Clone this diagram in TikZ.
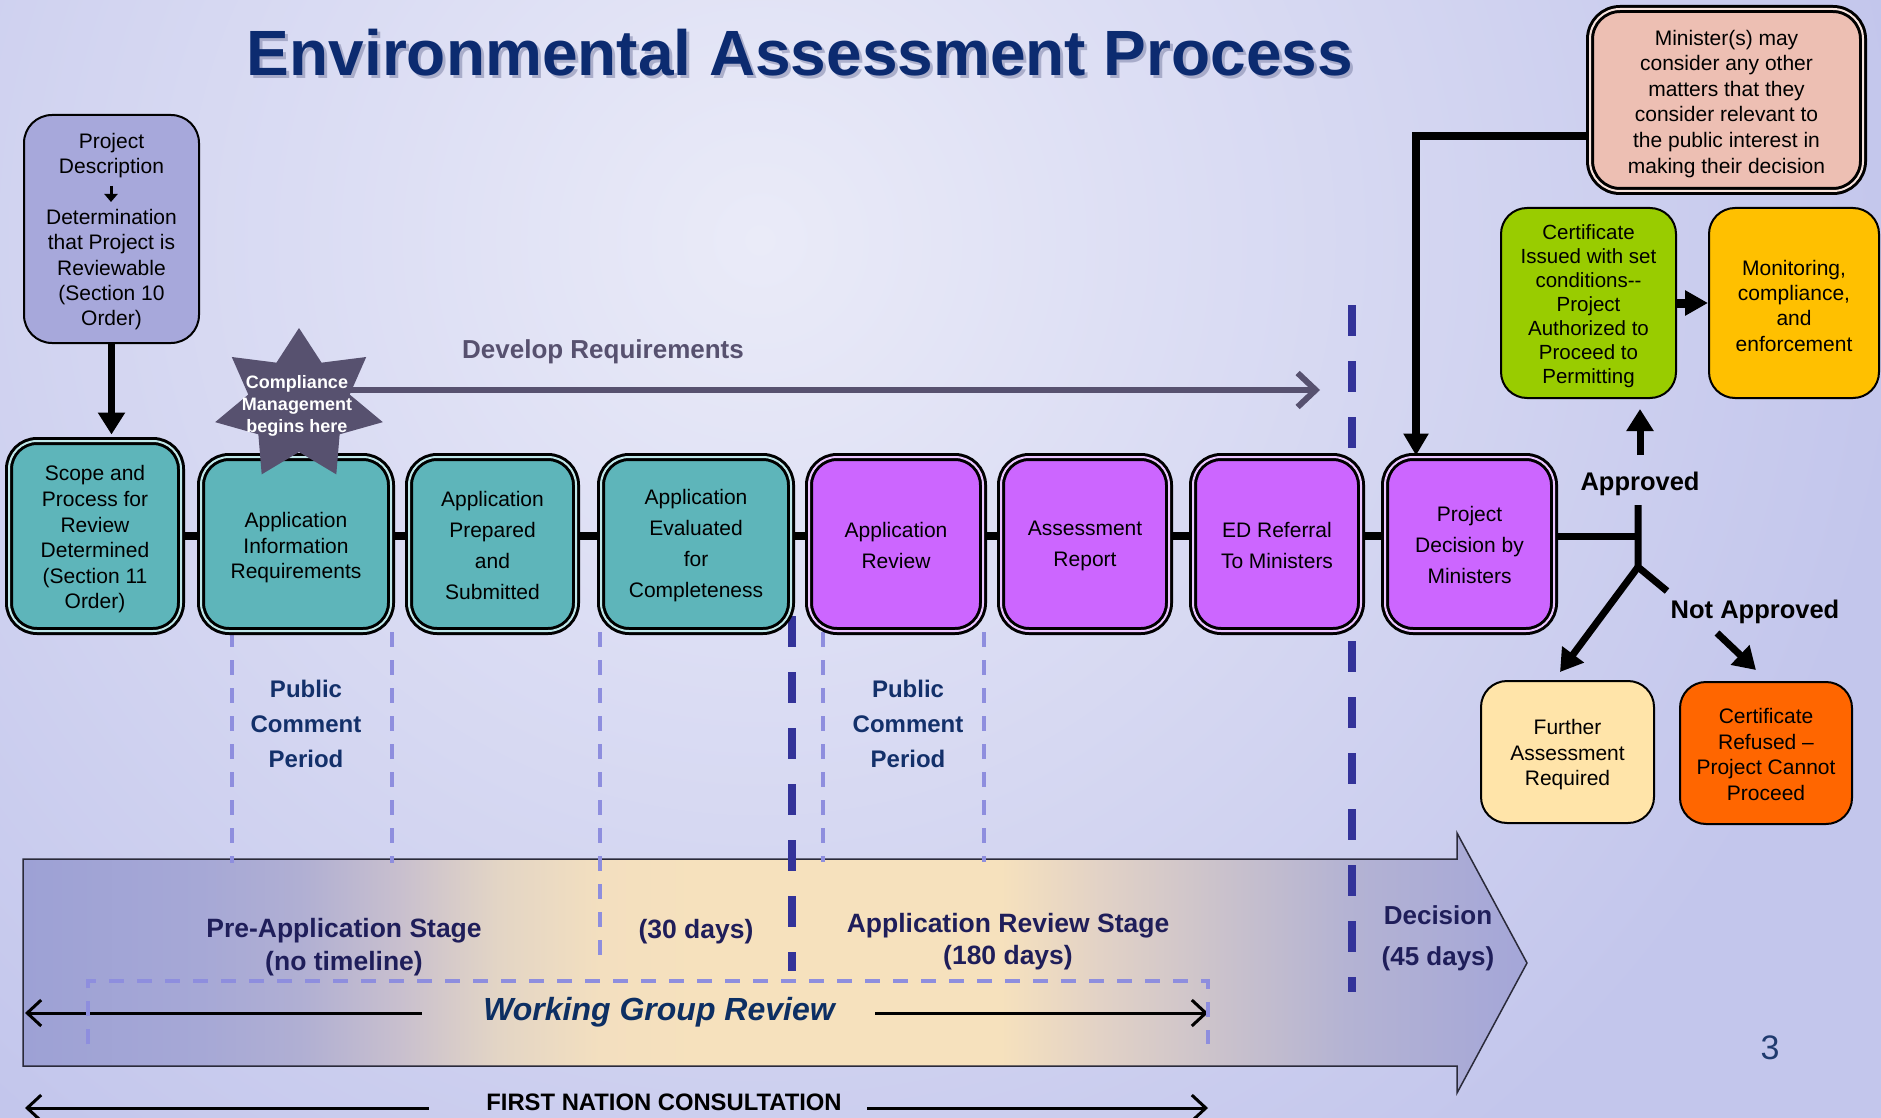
\documentclass[tikz,border=0pt]{standalone}
\usepackage{fontspec}
\setmainfont{Liberation Sans}
\usetikzlibrary{arrows.meta,calc}

\definecolor{titlec}{HTML}{0C2B70}
\definecolor{titlesh}{HTML}{7F84A8}
\definecolor{tealf}{HTML}{5EB5BA}
\definecolor{tealgap}{HTML}{BFE7E9}
\definecolor{purpf}{HTML}{CC66FF}
\definecolor{purpgap}{HTML}{EBC6FF}
\definecolor{pdfill}{HTML}{A7A8DB}
\definecolor{starcol}{HTML}{57516F}
\definecolor{pcpc}{HTML}{13306A}
\definecolor{stagec}{HTML}{1F1E5A}
\definecolor{wgc}{HTML}{0D2F63}
\definecolor{navyd}{HTML}{333399}
\definecolor{lightd}{HTML}{8E8EDE}
\definecolor{greenc}{HTML}{99CC00}
\definecolor{monc}{HTML}{FFC000}
\definecolor{furc}{HTML}{FFE4A9}
\definecolor{refc}{HTML}{FF6600}
\definecolor{minc}{HTML}{EDBFB3}
\definecolor{mingap}{HTML}{F7E3DD}
\definecolor{pagec}{HTML}{1F3A6E}
\definecolor{bgin}{HTML}{EAEBF8}
\definecolor{bgout}{HTML}{C3C6EC}
\definecolor{arrowln}{HTML}{2A2A3A}
\definecolor{sA}{HTML}{9DA1D5}
\definecolor{sB}{HTML}{A6A8D6}
\definecolor{sC}{HTML}{B0AFD3}
\definecolor{sD}{HTML}{C8BFCE}
\definecolor{sE}{HTML}{E3D5C5}
\definecolor{sF}{HTML}{F3DFBF}
\definecolor{sG}{HTML}{F6E1BD}
\definecolor{sH}{HTML}{E2D2C6}
\definecolor{sI}{HTML}{CCC3CB}
\definecolor{sJ}{HTML}{B4B3D3}
\definecolor{sK}{HTML}{A4A6D8}

\pgfdeclarehorizontalshading{arrowshade}{100bp}{color(0bp)=(sA); color(25bp)=(sA); color(30.9bp)=(sB); color(34.2bp)=(sC); color(37.5bp)=(sD); color(40.8bp)=(sE); color(44.2bp)=(sF); color(47.5bp)=(sG); color(57.5bp)=(sG); color(60.8bp)=(sH); color(64.5bp)=(sI); color(69bp)=(sJ); color(75bp)=(sK); color(100bp)=(sK)}

\pgfdeclarelayer{bg}
\pgfdeclarelayer{mid}
\pgfsetlayers{bg,mid,main}

\newcommand\ts[1]{\rule{0pt}{#1pt}}

\begin{document}
\begin{tikzpicture}[x=1pt,y=-1pt,
  rowbox/.style={draw=black, line width=3pt, double distance=2pt, rounded corners=28pt, inner sep=0pt, align=center, font=\fontsize{21}{25.6}\selectfont},
  widesp/.style={font=\fontsize{21}{31}\selectfont},
  tealbox/.style={rowbox, fill=tealf, double=tealgap},
  purpbox/.style={rowbox, fill=purpf, double=purpgap},
  flatbox/.style={draw=black, line width=2pt, rounded corners=26pt, inner sep=0pt, align=center, font=\fontsize{21}{25.4}\selectfont},
  barline/.style={line width=8pt, draw=black},
  thickarr/.style={line width=7pt, -{Triangle[length=22pt,width=26pt]}},
  thickln/.style={line width=7pt},
  lightdash/.style={draw=lightd, line width=4pt, dash pattern=on 15pt off 13pt},
  navydash/.style={draw=navyd, line width=8pt, dash pattern=on 31pt off 25pt},
  thinarr/.style={line width=3pt, -{Straight Barb[length=14pt,width=26pt]}},
  devarr/.style={draw=starcol, line width=6pt, -{Straight Barb[length=18pt,width=34pt]}},
  stagetxt/.style={text=stagec, font=\bfseries\fontsize{26.5}{33}\selectfont, align=center},
  pcptxt/.style={text=pcpc, font=\bfseries\fontsize{24}{35}\selectfont, align=center},
  lbl/.style={font=\bfseries\fontsize{25.5}{30}\selectfont}
]
\useasboundingbox (0,0) rectangle (1881,1118);

% ---------- background ----------
\begin{pgfonlayer}{bg}
  \fill[bgout] (0,0) rectangle (1881,1118);
  \begin{scope}
    \clip (0,0) rectangle (1881,1118);
    \shade[inner color=bgin, outer color=bgout] (-390,-910) rectangle (1910,1390);
  \end{scope}
  % big timeline arrow
  \shadedraw[shading=arrowshade, draw=arrowln, line width=1.5pt]
    (23,859) -- (1457,859) -- (1457,833) -- (1527,963) -- (1457,1093) -- (1457,1066) -- (23,1066) -- cycle;
\end{pgfonlayer}

% ---------- title ----------
\node[text=titlesh, opacity=.55, font=\bfseries\fontsize{64}{70}\selectfont] (titleshadow) at (803,56) {Environmental Assessment Process};
\node[text=titlec, font=\bfseries\fontsize{64}{70}\selectfont] (title) at (800,53) {Environmental Assessment Process};

% ---------- project description ----------
\node[flatbox, fill=pdfill, minimum width=175pt, minimum height=228pt, rounded corners=28pt] (pd) at (111.5,229)
  {\ts{20.5}Project\\Description\\[25.4pt]Determination\\that Project is\\Reviewable\\(Section 10\\Order)};
\draw[line width=3pt, -{Triangle[length=8pt,width=13pt]}] (111,186) -- (111,202);

% ---------- main row ----------
\node[tealbox, minimum width=172pt, minimum height=190pt] (scope) at (95,536)
  {\ts{22}Scope and\\Process for\\Review\\Determined\\(Section 11\\Order)};
\node[tealbox, minimum width=190pt, minimum height=174pt] (air) at (296,544)
  {\ts{23}Application\\Information\\Requirements};
\node[tealbox, widesp, minimum width=167pt, minimum height=174pt] (prep) at (492.5,544)
  {\ts{17.8}Application\\Prepared\\and\\Submitted};
\node[tealbox, widesp, minimum width=190pt, minimum height=174pt] (eval) at (696,544)
  {\ts{17.8}Application\\Evaluated\\for\\Completeness};
\node[purpbox, widesp, minimum width=174pt, minimum height=174pt] (review) at (896,544)
  {\ts{17.8}Application\\Review};
\node[purpbox, widesp, minimum width=168pt, minimum height=174pt] (report) at (1085,544)
  {\ts{17.8}Assessment\\Report};
\node[purpbox, widesp, minimum width=168pt, minimum height=174pt] (edref) at (1277,544)
  {\ts{17.8}ED Referral\\To Ministers};
\node[purpbox, widesp, minimum width=169pt, minimum height=174pt] (decision) at (1469.5,544)
  {\ts{17.8}Project\\Decision by\\Ministers};

% ---------- star ----------
\fill[starcol] (299,328) \foreach \i in {1,...,13}{
  -- ({299+(86-34*mod(\i,2))*sin(\i*360/14)},{405-(77-30*mod(\i,2))*cos(\i*360/14)}) } -- cycle;
\node[text=white, font=\bfseries\fontsize{18}{22}\selectfont, align=center] (cmstar) at (297,406)
  {Compliance\\Management\\begins here};

\node[text=starcol, font=\bfseries\fontsize{26}{30}\selectfont] (devtxt) at (603,352) {Develop Requirements};
\coordinate (devend) at (1320,390);

% ---------- right side ----------
\node[rowbox, fill=minc, double=mingap, rounded corners=30pt, minimum width=273pt, minimum height=182pt] (minister) at (1726.5,100)
  {\ts{22.5}Minister(s) may\\consider any other\\matters that they\\consider relevant to\\the public interest in\\making their decision};
\node[flatbox, fill=greenc, minimum width=175pt, minimum height=190pt, font=\fontsize{20.5}{24}\selectfont] (green) at (1588.5,303)
  {\ts{21.5}Certificate\\Issued with set\\conditions-{}-\\Project\\Authorized to\\Proceed to\\Permitting};
\node[flatbox, fill=monc, minimum width=170pt, minimum height=190pt] (monitor) at (1794,303)
  {\ts{20.5}Monitoring,\\compliance,\\and\\enforcement};
\node[flatbox, fill=furc, minimum width=173pt, minimum height=142pt] (further) at (1567.5,752)
  {\ts{20.5}Further\\Assessment\\Required};
\node[flatbox, fill=refc, minimum width=172pt, minimum height=142pt] (refused) at (1766,753)
  {\ts{18}Certificate\\Refused –\\Project Cannot\\Proceed};

\coordinate (mk) at (1416,136);
\draw[thickarr, line width=8pt, -{Triangle[length=22pt,width=24pt]}] (minister.west |- mk) -| (decision.north -| mk);
\draw[line width=9pt, -{Triangle[length=23pt,width=24pt]}] (green.east) -- (monitor.west);

\coordinate (jtop) at (1638,505);
\coordinate (jmid) at (1638,536);
\coordinate (junc) at (1638,567);
\coordinate (ftip) at (1560,672);
\coordinate (nstub) at (1667,591);
\coordinate (nastart) at (1717,633);
\coordinate (natip) at (1756,670);
\coordinate (apstart) at (1640,455);
\draw[thickln] (decision.east |- jmid) -- (jmid);
\draw[thickln] (jtop) -- (junc) -- (nstub);
\draw[thickarr] (junc) -- (ftip);
\draw[thickarr] (nastart) -- (natip);
\draw[thickarr, shorten >=10pt] (apstart) -- (apstart |- green.south);
\node[lbl] (approved) at (1640,484) {Approved};
\node[lbl] (notapproved) at (1755,612) {Not Approved};

% PD -> scope
\draw[thickarr, shorten >=5pt] (pd.south) -- (pd.south |- scope.north);

% ---------- lower texts ----------
\node[pcptxt] (pcp1) at (306,724) {Public\\Comment\\Period};
\node[pcptxt] (pcp2) at (908,724) {Public\\Comment\\Period};

\node[stagetxt] (prestage) at (344,947) {Pre-Application Stage\\(no timeline)};
\node[stagetxt] (days30) at (696,932) {(30 days)};
\node[stagetxt, font=\bfseries\fontsize{26.5}{32}\selectfont] (arstage) at (1008,942) {Application Review Stage\\(180 days)};
\node[stagetxt, font=\bfseries\fontsize{26}{41}\selectfont] (decstage) at (1438,938) {Decision\\(45 days)};

\node[text=wgc, font=\bfseries\itshape\fontsize{32}{36}\selectfont] (wg) at (659,1012) {Working Group Review};
\node[font=\bfseries\fontsize{23.8}{26}\selectfont] (fn) at (664,1102) {FIRST NATION CONSULTATION};

\coordinate (wgl) at (25,1013);
\coordinate (wgr) at (1208,1013);
\coordinate (fnl) at (25,1108);
\coordinate (fnr) at (1208,1108);
\draw[thinarr, shorten <=58pt] (wg.west |- wgl) -- (wgl);
\draw[thinarr, shorten <=37pt] (wg.east |- wgr) -- (wgr);
\draw[thinarr, shorten <=54pt] (fn.west |- fnl) -- (fnl);
\draw[thinarr, shorten <=22pt] (fn.east |- fnr) -- (fnr);
\draw[lightdash] (88,1044) -- (88,981) -- (1208,981) -- (1208,1044);

\node[text=pagec, font=\fontsize{34}{40}\selectfont] (pagenum) at (1770,1048) {3};

% ---------- mid layer: bars, dashed lines, develop arrow ----------
\begin{pgfonlayer}{mid}
  \coordinate (bary) at (0,536);
  \draw[barline] (scope.east |- bary) -- (air.west |- bary);
  \draw[barline] (air.east |- bary) -- (prep.west |- bary);
  \draw[barline] (prep.east |- bary) -- (eval.west |- bary);
  \draw[barline] (eval.east |- bary) -- (review.west |- bary);
  \draw[barline] (review.east |- bary) -- (report.west |- bary);
  \draw[barline] (report.east |- bary) -- (edref.west |- bary);
  \draw[barline] (edref.east |- bary) -- (decision.west |- bary);

  \draw[lightdash] (232,632) -- (232,863);
  \draw[lightdash] (392,632) -- (392,863);
  \draw[lightdash] (600,632) -- (600,967);
  \draw[lightdash] (823,632) -- (823,862);
  \draw[lightdash] (984,632) -- (984,862);
  \draw[navydash] (792,616) -- (792,971);
  \draw[navydash] (1352,305) -- (1352,992);

  \draw[devarr] (cmstar.center |- devend) -- (devend);
\end{pgfonlayer}
\end{tikzpicture}
\end{document}
